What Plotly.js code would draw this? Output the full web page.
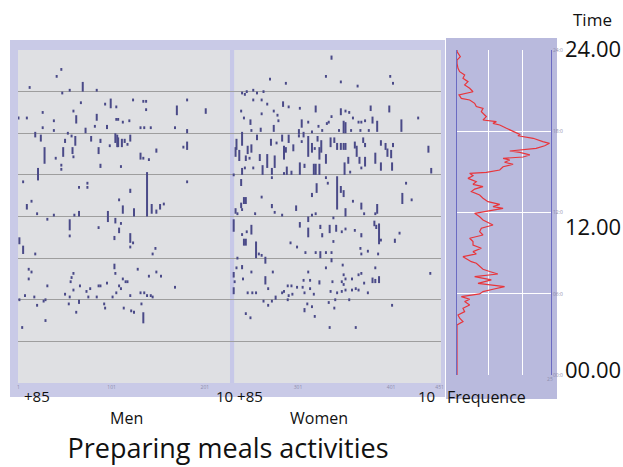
<!DOCTYPE html>
<html>
<head>
<meta charset="utf-8">
<script src="https://cdn.plot.ly/plotly-3.0.1.min.js"></script>
<style>html,body{margin:0;padding:0;background:#fff}#chart{width:623px;height:467px}</style>
</head>
<body>
<div id="chart"></div>
<script>
// ---- Men: respondent index, activity start hour, activity end hour ----
const menId = [47,42,13,48,56,70,85,68,94,100,106,124,135,138,138,182,171,202,1,10,27,39,60,63,85,83,96,106,108,113,120,132,136,143,169,182,27,39,73,54,19,25,51,58,62,79,89,105,107,108,112,115,118,121,99,182,178,29,41,49,59,60,87,47,47,89,111,132,135,141,149,22,139,6,182,66,75,75,121,10,15,109,113,125,144,149,153,157,21,39,61,66,97,32,56,56,87,105,111,109,104,121,124,121,6,19,148,145,2,104,12,12,15,105,60,58,57,129,149,141,154,113,116,118,96,32,67,78,74,87,89,109,111,60,169,106,8,18,28,30,51,56,66,76,85,102,121,132,136,139,143,145,2,21,55,93,94,133,63,114,122,125,135,30,5];
const menStart = [22.5,22.0,21.2,20.8,21.0,21.0,21.0,20.1,20.0,19.8,19.8,20.3,20.2,20.2,19.6,20.3,19.3,19.4,19.0,19.0,19.4,18.8,19.5,18.7,18.9,18.4,18.3,18.9,18.9,18.7,18.8,18.3,18.3,18.3,18.3,18.0,18.3,18.1,18.0,17.9,17.7,17.4,17.3,17.7,17.1,17.4,17.3,17.3,17.0,17.0,17.0,17.3,17.1,17.4,17.0,16.8,16.9,15.8,16.1,16.3,16.5,16.2,16.5,15.6,15.3,15.5,15.5,16.1,16.1,16.0,16.6,14.6,12.0,14.4,14.4,14.0,14.0,14.3,13.7,12.5,13.0,13.1,12.2,12.0,12.2,12.2,12.5,12.8,12.1,12.0,12.0,12.0,11.6,11.7,11.0,10.5,11.1,11.5,11.4,10.8,10.3,10.1,10.0,9.7,9.3,9.2,9.6,9.2,10.0,8.2,8.1,7.4,7.9,7.8,7.8,7.5,7.2,8.1,7.9,7.6,7.6,7.4,7.2,7.2,7.1,6.9,6.9,6.7,6.5,6.9,6.9,6.9,6.7,6.6,6.8,6.4,6.2,6.1,5.8,5.9,6.3,6.1,5.7,6.1,6.1,6.1,6.2,6.4,6.4,6.2,6.2,6.1,5.9,5.5,5.6,5.6,5.3,5.6,5.0,5.3,5.1,5.0,4.3,4.4,3.9];
const menEnd = [22.7,22.2,21.4,21.0,21.2,21.7,21.2,20.3,20.2,20.5,20.0,20.5,20.4,20.4,19.8,20.5,20.0,19.8,19.2,19.2,19.6,19.0,19.7,19.3,19.4,18.6,18.6,19.1,19.1,18.9,19.0,18.5,18.5,18.5,18.5,18.3,18.5,18.3,18.4,18.1,18.1,17.9,17.6,17.9,17.8,17.8,17.6,18.0,17.9,17.7,17.6,17.6,17.3,17.9,17.2,17.4,17.1,17.0,16.3,17.0,17.0,16.4,17.0,15.8,15.5,15.8,15.7,16.6,16.3,16.2,16.9,15.5,15.2,14.6,14.6,14.2,14.2,14.5,14.0,12.9,13.2,13.3,12.8,12.6,12.9,12.5,12.9,13.0,12.3,12.2,12.2,12.4,12.4,11.9,11.8,10.7,11.3,11.9,11.6,11.2,10.6,10.8,10.2,9.9,9.9,9.4,9.8,9.4,10.5,8.6,8.3,7.6,8.1,8.0,8.0,7.7,7.4,8.3,8.1,7.8,7.8,7.6,7.4,7.4,7.3,7.1,7.1,6.9,6.7,7.1,7.1,7.1,6.9,6.8,7.0,6.6,6.4,6.3,6.0,6.1,6.5,6.3,6.0,6.3,6.3,6.3,6.4,6.6,6.6,6.4,6.4,6.3,6.1,5.7,5.8,5.8,5.5,5.8,5.2,5.5,5.3,5.2,5.1,4.6,4.1];

// ---- Women: respondent index, activity start hour, activity end hour ----
const womenId = [337,271,288,331,347,365,400,403,241,244,246,253,257,264,253,262,268,285,291,303,320,347,352,356,379,399,240,243,262,275,279,280,250,305,312,332,334,337,350,352,360,366,369,373,381,386,412,430,261,275,251,302,307,323,327,316,345,358,368,377,241,235,234,238,247,251,245,249,257,260,268,272,276,278,284,286,288,291,296,302,305,312,316,319,322,324,326,331,336,340,343,347,350,352,362,364,367,355,371,373,373,369,384,390,395,397,401,403,390,402,441,444,241,244,253,232,263,273,273,289,294,303,308,318,320,324,286,351,357,240,343,347,350,321,316,331,333,417,413,423,262,243,245,240,234,241,236,255,273,299,320,316,352,369,386,360,372,384,276,284,232,251,241,246,243,245,256,259,262,266,303,312,312,325,327,335,342,348,352,362,339,369,383,385,388,390,410,405,293,300,339,368,376,369,387,309,320,325,331,337,325,337,236,235,241,251,274,312,331,349,350,366,369,384,443,232,242,233,266,381,384,388,324,314,307,338,348,352,350,359,372,232,247,252,256,269,290,294,300,306,314,284,286,291,295,308,277,318,336,343,348,352,359,363,366,376,273,264,290,341,356,334,311,316,308,340,269,402,245,250,319,335,363];
const womenStart = [23.3,21.8,21.5,22.0,21.6,21.3,22.0,21.5,20.8,20.7,20.9,21.0,20.8,20.9,20.3,20.3,20.0,19.9,19.8,19.7,19.5,19.3,19.5,19.4,19.6,19.5,19.5,19.0,19.3,19.5,19.2,18.8,18.6,18.4,18.7,18.6,18.7,19.1,18.0,18.0,19.0,18.7,18.7,18.8,18.7,18.1,18.1,19.0,18.1,18.1,18.1,17.9,17.7,18.4,18.1,18.0,18.1,18.1,18.1,18.1,17.1,16.8,16.3,16.0,16.5,16.6,16.0,16.1,17.5,16.0,15.5,17.1,15.5,17.2,17.4,16.1,16.6,17.3,16.7,17.7,17.3,16.3,16.6,16.8,17.4,16.1,16.6,15.8,17.0,17.3,16.8,16.8,16.8,16.8,16.9,16.3,15.8,15.8,17.3,17.0,15.6,15.4,15.8,17.1,16.8,16.3,16.2,17.0,15.3,15.3,16.6,15.1,15.0,15.4,15.4,14.9,15.0,15.0,14.7,15.0,15.0,15.0,15.5,15.0,15.0,15.0,15.0,15.0,15.1,14.2,12.5,13.7,13.4,13.7,13.4,14.7,14.3,14.3,12.9,13.1,13.3,12.9,12.9,12.6,12.2,12.4,12.1,12.1,12.6,12.4,12.1,12.0,12.0,12.5,12.2,13.0,12.1,12.1,12.2,12.0,10.9,10.7,10.6,10.8,9.9,9.9,9.0,9.2,9.1,8.6,11.2,10.5,11.6,11.1,10.5,10.8,10.9,10.8,11.0,10.9,11.8,10.5,11.3,11.1,10.0,10.2,10.7,10.1,10.0,9.7,10.1,9.6,9.4,9.2,9.2,9.3,9.3,9.3,9.3,9.3,9.0,8.7,8.9,8.2,8.2,7.9,7.9,7.9,8.2,8.4,7.7,7.7,7.8,8.2,7.8,7.6,7.4,7.2,7.1,7.2,7.2,7.2,7.1,7.3,7.3,7.2,7.2,7.4,7.0,7.4,7.1,6.4,6.4,6.4,6.4,6.7,6.9,6.9,6.8,6.8,6.7,6.4,6.5,6.2,6.3,6.4,6.0,6.3,6.5,6.4,6.5,6.6,6.6,6.7,6.6,6.4,5.8,5.8,5.9,5.9,5.9,5.7,5.6,5.4,5.1,5.3,5.5,5.5,4.9,4.6,4.7,3.9,3.9];
const womenEnd = [23.6,22.0,21.7,22.2,21.8,21.5,22.2,21.7,21.0,20.9,21.1,21.2,21.0,21.1,20.5,20.5,20.2,20.3,20.0,19.9,20.0,19.8,19.7,19.6,20.0,20.0,19.7,19.2,19.5,19.7,19.4,19.0,19.0,19.0,18.9,18.8,18.9,19.3,18.9,18.8,19.2,18.9,18.9,19.0,19.2,18.9,19.0,19.2,18.4,18.6,18.3,18.3,18.1,18.6,18.3,18.2,18.3,18.3,18.3,18.3,18.1,17.6,17.0,16.8,17.1,17.2,16.4,16.3,17.9,16.5,16.5,17.6,16.4,17.4,17.9,17.1,17.0,17.9,17.2,17.9,17.5,17.8,17.3,17.0,17.8,17.0,17.5,16.5,17.7,17.7,17.3,17.3,17.3,17.3,17.4,17.1,16.3,16.3,17.7,17.3,16.3,15.6,16.6,17.5,17.3,16.9,16.8,17.3,15.9,15.9,17.1,15.5,15.5,15.6,15.6,15.1,15.7,15.5,14.9,15.6,15.3,15.9,15.8,15.8,15.8,15.8,15.2,15.9,15.3,14.7,14.9,14.2,13.9,14.4,13.7,14.9,14.5,14.5,13.7,13.3,13.5,13.4,13.4,13.0,12.6,12.6,12.3,12.3,12.9,12.8,12.3,12.2,12.6,13.0,12.9,13.2,12.3,12.3,12.4,12.2,11.8,11.4,10.8,11.0,10.4,10.4,10.2,9.4,9.3,9.1,11.6,11.2,12.0,11.4,10.8,11.4,11.4,11.0,11.2,11.1,12.0,10.8,11.7,11.4,11.5,10.4,10.9,10.4,10.2,9.9,10.3,9.8,9.6,9.4,9.4,9.5,9.5,9.5,9.5,9.5,9.3,9.0,9.1,8.4,8.5,8.1,8.1,8.1,8.4,8.6,7.9,7.9,8.0,8.4,8.0,8.0,7.6,7.4,7.7,7.6,7.5,7.7,7.4,7.5,7.5,7.4,7.4,7.6,7.2,7.6,7.3,6.9,6.6,6.6,6.6,6.9,7.1,7.1,7.0,7.0,6.9,6.6,6.7,6.4,6.5,6.6,6.3,6.5,6.7,6.6,6.7,6.8,6.8,6.9,6.8,6.6,6.0,6.0,6.1,6.1,6.1,5.9,5.8,5.6,5.4,5.5,5.7,5.7,5.1,4.8,4.9,4.1,4.1];

// ---- Frequency profile (hour of day, number of people active) ----
const freqHour = [24.0,23.88,23.51,23.26,23.02,22.65,22.4,22.15,21.91,21.66,21.42,21.17,20.92,20.68,20.43,20.31,20.06,19.82,19.69,19.45,19.2,19.08,18.83,18.71,18.58,18.46,18.22,17.97,17.77,17.67,17.48,17.23,17.11,16.93,16.74,16.54,16.44,16.25,16.1,16.0,15.88,15.71,15.56,15.38,15.14,14.97,14.89,14.72,14.52,14.28,14.08,13.91,13.73,13.54,13.29,13.05,12.8,12.6,12.43,12.31,12.16,11.94,11.69,11.45,11.08,10.84,10.59,10.34,10.1,9.85,9.6,9.36,9.11,8.94,8.74,8.55,8.37,8.25,8.05,7.81,7.64,7.46,7.27,7.02,6.77,6.53,6.33,6.16,5.99,5.79,5.59,5.42,5.17,4.93,4.68,4.43,4.19,3.94,3.7,0];
const freqValue = [0,0,0.9,0,0,0.27,0.72,2.06,1.61,2.96,2.06,3.41,4.31,0.54,1.17,3.41,4.75,5.2,7.0,6.55,7.45,7.9,7.0,10.6,9.69,11.5,13.3,15.1,16.9,16.4,20.5,23.1,24.9,23.6,21.3,14.2,16.9,19.6,17.8,12.4,14.2,12.8,15.1,12.4,11.5,7.9,3.41,4.31,2.96,5.2,4.31,7.0,4.75,3.86,6.1,7.0,8.34,11.5,9.69,12.4,8.79,4.75,6.1,7.0,9.69,6.55,6.1,7.0,3.41,4.31,4.31,6.55,4.31,5.2,1.61,2.96,3.86,5.2,6.1,7.0,8.79,11.0,4.75,9.24,5.65,12.8,9.69,7.0,6.1,1.17,3.41,2.06,3.41,1.61,2.06,0.27,0.72,1.61,0,0];

// ---- Tick labels ----
const personTicks = [1,101,201,301,401,453];
const personTickText = ['1','101','201','301','401','451'];
const hourTicks = [0,6,12,18,24];
const hourTickText = ['00:0','06:0','12:0','18:0','24:0'];
const freqTicks = [25];

function segments(ids, starts, ends) {
  const x = [], y = [];
  for (let i = 0; i < ids.length; i++) {
    x.push(ids[i], ids[i], null);
    y.push(starts[i], ends[i], null);
  }
  return {x, y};
}
const men = segments(menId, menStart, menEnd);
const women = segments(womenId, womenStart, womenEnd);
const barColor = '#4a4a88';

const traces = [
  {type:'scatter', mode:'lines', x:men.x, y:men.y, connectgaps:false,
   line:{color:barColor, width:2}, hoverinfo:'skip', xaxis:'x', yaxis:'y', name:'Men'},
  {type:'scatter', mode:'lines', x:women.x, y:women.y, connectgaps:false,
   line:{color:barColor, width:2}, hoverinfo:'skip', xaxis:'x', yaxis:'y', name:'Women'},
  {type:'scatter', mode:'lines', x:freqValue, y:freqHour,
   line:{color:'#e8353b', width:1.2}, xaxis:'x2', yaxis:'y2', name:'Frequence'}
];

const W = 623, H = 467;
const px = v => v / W, py = v => 1 - v / H;
const font = "'Open Sans', Lato, sans-serif";
const tiny = {size:5, color:'#8d8dac', family:font};

const ann = (text, x, y, size, opts) => Object.assign({
  text, x: px(x), y: py(y), xref:'paper', yref:'paper', showarrow:false,
  xanchor:'center', yanchor:'middle', font:{size, color:'#111', family:font}
}, opts || {});

const layout = {
  width: W, height: H, autosize:false,
  margin:{l:0, r:0, t:0, b:0, pad:0},
  paper_bgcolor:'#ffffff', plot_bgcolor:'rgba(0,0,0,0)',
  showlegend:false,
  font:{family:font},
  title:{text:'Preparing meals activities', x:px(228), xanchor:'center', y:py(449), yanchor:'middle',
         font:{size:27, color:'#111', family:font}},
  xaxis:{domain:[px(18), px(441)], range:[0.5, 454.5], showgrid:false, zeroline:false, showline:false,
         tickmode:'array', tickvals:personTicks, ticktext:personTickText, ticks:'', tickfont:tiny, fixedrange:true},
  yaxis:{domain:[py(383), py(50)], range:[0, 24], dtick:3, tick0:0, showgrid:true, gridcolor:'#9e9e9e', gridwidth:1,
         zeroline:false, showline:false, showticklabels:false, ticks:'', fixedrange:true},
  xaxis2:{domain:[px(457), px(551)], range:[0, 25.3], anchor:'y2', showgrid:false, zeroline:false, showline:false,
          tickmode:'array', tickvals:freqTicks, ticks:'', tickfont:tiny,
          minor:{tickmode:'array', tickvals:[8.6, 17.5], showgrid:true, gridcolor:'#ffffff', gridwidth:1, ticks:''},
          fixedrange:true},
  yaxis2:{domain:[py(375), py(50)], range:[0, 24], anchor:'x2', side:'right', tickmode:'array',
          tickvals:hourTicks, ticktext:hourTickText, tickfont:tiny, ticks:'',
          showgrid:false,
          minor:{tickmode:'array', tickvals:[6, 12, 18], showgrid:true, gridcolor:'#ffffff', gridwidth:1, ticks:''},
          zeroline:false,
          showline:true, mirror:true, linecolor:'#6b6bc2', linewidth:1, fixedrange:true},
  shapes:[
    {type:'rect', xref:'paper', yref:'paper', x0:px(10), x1:px(445), y0:py(397), y1:py(40),
     fillcolor:'#c9cae7', line:{width:0}, layer:'below'},
    {type:'rect', xref:'paper', yref:'paper', x0:px(18), x1:px(441), y0:py(383), y1:py(50),
     fillcolor:'#dfe0e3', line:{width:0}, layer:'below'},
    {type:'rect', xref:'x', yref:'paper', x0:228, x1:232.5, y0:py(383), y1:py(50),
     fillcolor:'#c7c8e8', line:{width:0}, layer:'below'},
    {type:'rect', xref:'paper', yref:'paper', x0:px(446), x1:px(557), y0:py(399), y1:py(38),
     fillcolor:'#b9badd', line:{width:0}, layer:'below'}
  ],
  annotations:[
    ann('Time', 592, 20, 17),
    ann('24.00', 593, 48, 22),
    ann('12.00', 593, 226, 22),
    ann('00.00', 593, 369, 22),
    ann('+85', 37, 396, 15),
    ann('10 +85', 239, 396, 15),
    ann('10', 426, 396, 15),
    ann('Frequence', 486, 397, 16),
    ann('Men', 126, 418, 16),
    ann('Women', 319, 418, 16)
  ]
};

Plotly.newPlot('chart', traces, layout, {staticPlot:true, displayModeBar:false});
</script>
</body>
</html>
